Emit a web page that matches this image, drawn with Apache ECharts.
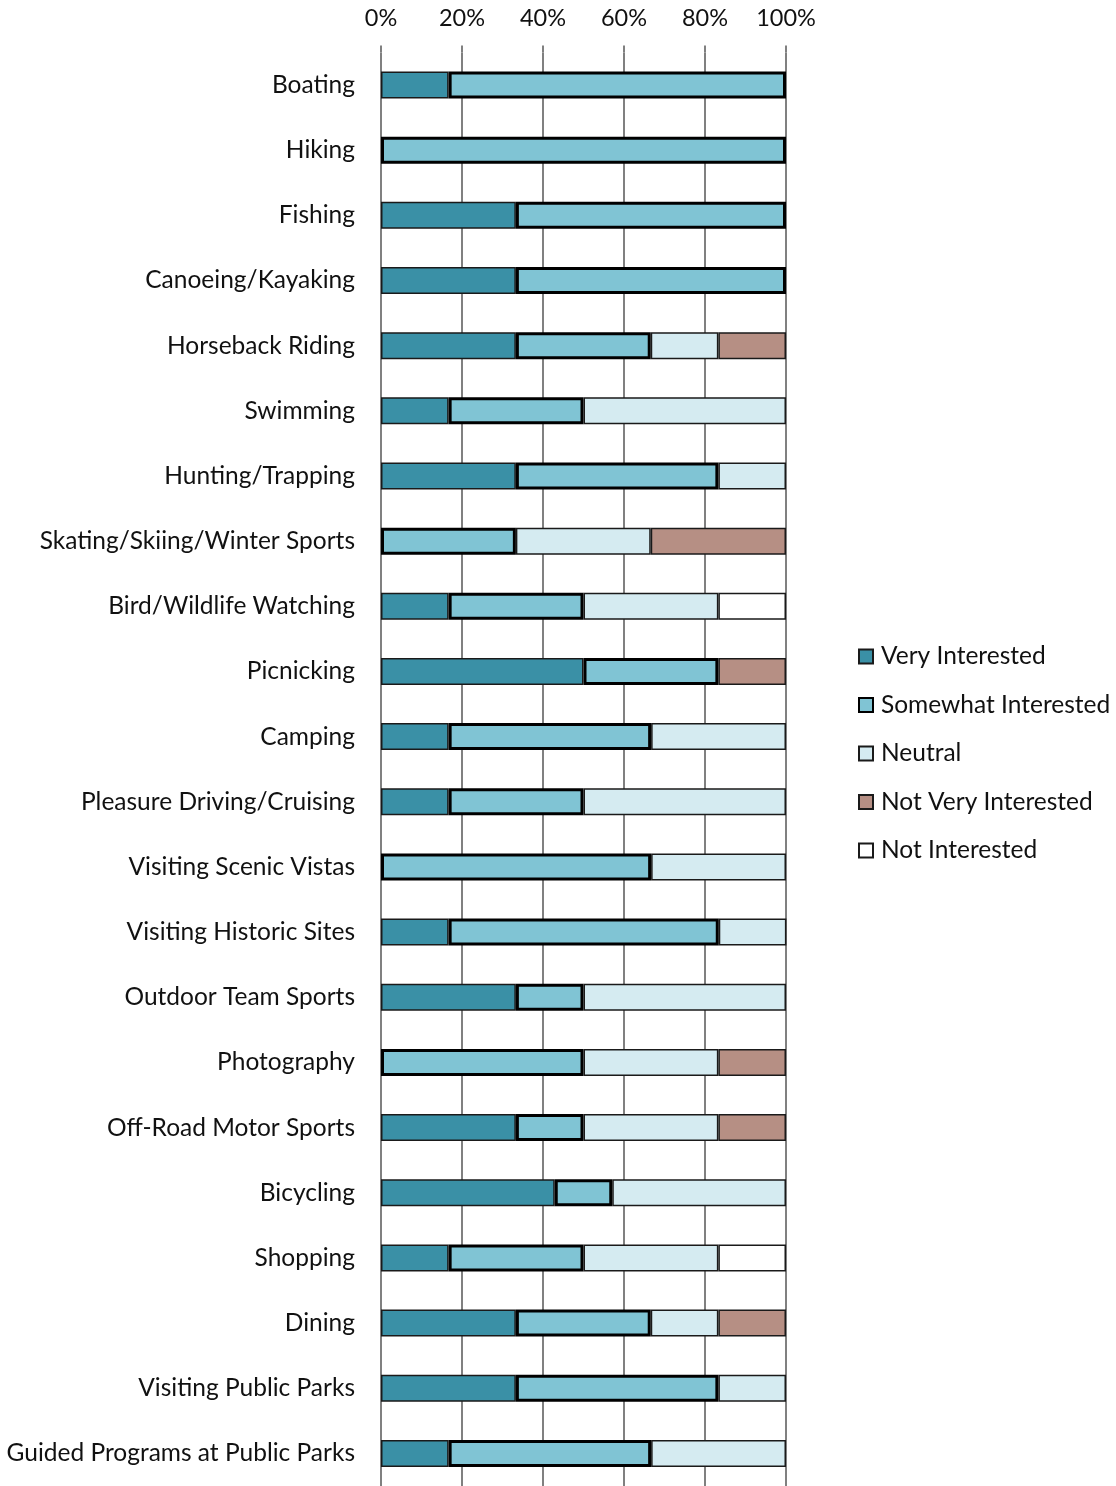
<!DOCTYPE html>
<html>
<head>
<meta charset="utf-8">
<script src="https://cdn.jsdelivr.net/npm/echarts@6/dist/echarts.min.js"></script>
<style>
  html, body { margin: 0; padding: 0; background: #fff; }
  #chart { width: 1116px; height: 1486px; }
</style>
</head>
<body>
<div id="chart"></div>
<script>
// Interest in recreational activities, share of respondents (%)
const activities = [
  'Boating', 'Hiking', 'Fishing', 'Canoeing/Kayaking', 'Horseback Riding',
  'Swimming', 'Hunting/Trapping', 'Skating/Skiing/Winter Sports',
  'Bird/Wildlife Watching', 'Picnicking', 'Camping', 'Pleasure Driving/Cruising',
  'Visiting Scenic Vistas', 'Visiting Historic Sites', 'Outdoor Team Sports',
  'Photography', 'Off-Road Motor Sports', 'Bicycling', 'Shopping', 'Dining',
  'Visiting Public Parks', 'Guided Programs at Public Parks'
];

const veryInterested = [16.7, 0, 33.3, 33.3, 33.3, 16.7, 33.3, 0, 16.7, 50, 16.7, 16.7, 0, 16.7, 33.3, 0, 33.3, 42.9, 16.7, 33.3, 33.3, 16.7];
const somewhatInterested = [83.3, 100, 66.7, 66.7, 33.3, 33.3, 50, 33.3, 33.3, 33.3, 50, 33.3, 66.7, 66.7, 16.7, 50, 16.7, 14.2, 33.3, 33.3, 50, 50];
const neutral = [0, 0, 0, 0, 16.7, 50, 16.7, 33.3, 33.3, 0, 33.3, 50, 33.3, 16.7, 50, 33.3, 33.3, 42.9, 33.3, 16.7, 16.7, 33.3];
const notVeryInterested = [0, 0, 0, 0, 16.7, 0, 0, 33.4, 0, 16.7, 0, 0, 0, 0, 0, 16.7, 16.7, 0, 0, 16.7, 0, 0];
const notInterested = [0, 0, 0, 0, 0, 0, 0, 0, 16.7, 0, 0, 0, 0, 0, 0, 0, 0, 0, 16.7, 0, 0, 0];

const axisTicks = [0, 20, 40, 60, 80, 100];

const FONT = 'Lato';
const chart = echarts.init(document.getElementById('chart'), null, { renderer: 'canvas' });

function seriesOf(name, data, fill, borderColor, borderWidth, z) {
  return {
    name: name,
    type: 'bar',
    stack: 'total',
    barWidth: 27,
    z: z,
    data: data.map(v => (v === 0 ? null : v)),
    itemStyle: { color: fill, borderColor: borderColor, borderWidth: borderWidth },
    emphasis: { disabled: true }
  };
}

chart.setOption({
  animation: false,
  backgroundColor: '#ffffff',
  textStyle: { fontFamily: FONT },
  grid: { left: 381, right: 330, top: 52.4, bottom: -1.6, containLabel: false },
  legend: {
    orient: 'vertical',
    left: 858,
    top: 644,
    padding: 0,
    itemWidth: 14,
    itemHeight: 14,
    itemGap: 23.5,
    icon: 'rect',
    textStyle: { fontFamily: FONT, fontSize: 24.5, color: '#111', padding: [0, 0, 0, 3] },
    data: ['Very Interested', 'Somewhat Interested', 'Neutral', 'Not Very Interested', 'Not Interested']
  },
  xAxis: {
    type: 'value',
    position: 'top',
    min: axisTicks[0],
    max: axisTicks[axisTicks.length - 1],
    interval: axisTicks[1] - axisTicks[0],
    axisLine: { show: false },
    axisTick: { show: true, length: 7, lineStyle: { color: '#808080', width: 2 } },
    splitLine: { show: true, lineStyle: { color: '#808080', width: 2 } },
    axisLabel: {
      formatter: v => v + '%',
      fontFamily: FONT, fontSize: 23.5, color: '#111', margin: 22
    }
  },
  yAxis: {
    type: 'category',
    inverse: true,
    data: activities,
    axisLine: { show: false },
    axisTick: { show: false },
    axisLabel: { fontFamily: FONT, fontSize: 24.5, color: '#111', margin: 26, padding: [2, 0, 0, 0] }
  },
  series: [
    seriesOf('Very Interested', veryInterested, '#3A90A6', '#1a1a1a', 1.5, 2),
    seriesOf('Somewhat Interested', somewhatInterested, '#80C4D4', '#000000', 3, 4),
    seriesOf('Neutral', neutral, '#D5EBF1', '#1a1a1a', 1.5, 2),
    seriesOf('Not Very Interested', notVeryInterested, '#B68F84', '#1a1a1a', 1.5, 2),
    seriesOf('Not Interested', notInterested, '#FFFFFF', '#1a1a1a', 1.5, 2)
  ]
});
</script>
</body>
</html>
